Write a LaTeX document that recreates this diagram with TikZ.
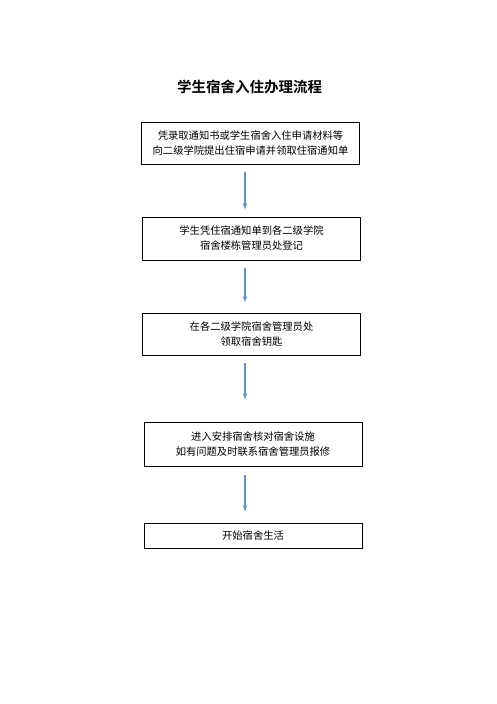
\documentclass[tikz,border=0pt]{standalone}
\usepackage{fontspec}
\newfontfamily\cjk{Noto Sans CJK SC}
\newfontfamily\cjkbold{Noto Sans CJK SC Bold}
\definecolor{FlowBlue}{RGB}{98,146,200}
\usetikzlibrary{positioning,arrows,calc}
\tikzset{>=latex}
\tikzset{
    stepbox/.style={draw,thick,minimum width=218pt,inner sep=0pt,align=center,font=\cjk\fontsize{10.3}{15}\selectfont},
    flow/.style={->,FlowBlue,line width=1.1pt}
}

\begin{document}
\begin{tikzpicture}[x=1pt,y=-1pt]
        \useasboundingbox (0,0) rectangle (497,704);
        % title
        \node[font=\cjkbold\fontsize{14.5}{15}\selectfont] at (249.5,87) (title) {学生宿舍入住办理流程};
        % boxes
        \node[stepbox,minimum height=42pt] at (250.5,143) (apply) {凭录取通知书或学生宿舍入住申请材料等\\向二级学院提出住宿申请并领取住宿通知单};
        \node[stepbox,minimum height=43pt] at (251.5,238.5) (register) {学生凭住宿通知单到各二级学院\\宿舍楼栋管理员处登记};
        \node[stepbox,minimum height=42pt] at (251.5,334) (keys) {在各二级学院宿舍管理员处\\领取宿舍钥匙};
        \node[stepbox,minimum height=44pt] at (253,444) (check) {进入安排宿舍核对宿舍设施\\如有问题及时联系宿舍管理员报修};
        \node[stepbox,minimum height=25pt] at (253,535.5) (live) {开始宿舍生活};
        % arrows
        \draw[flow,shorten <=7.5pt,shorten >=7pt] ([xshift=-5.5pt]apply.south) -- ([xshift=-6.5pt]register.north);
        \draw[flow,shorten <=8pt,shorten >=10pt] ([xshift=-6.5pt]register.south) -- ([xshift=-6.5pt]keys.north);
        \draw[flow,shorten <=8pt,shorten >=22pt] ([xshift=-6.5pt]keys.south) -- ([xshift=-8pt]check.north);
        \draw[flow,shorten <=9pt,shorten >=11pt] ([xshift=-8pt]check.south) -- ([xshift=-8pt]live.north);
    \end{tikzpicture}
\end{document}
